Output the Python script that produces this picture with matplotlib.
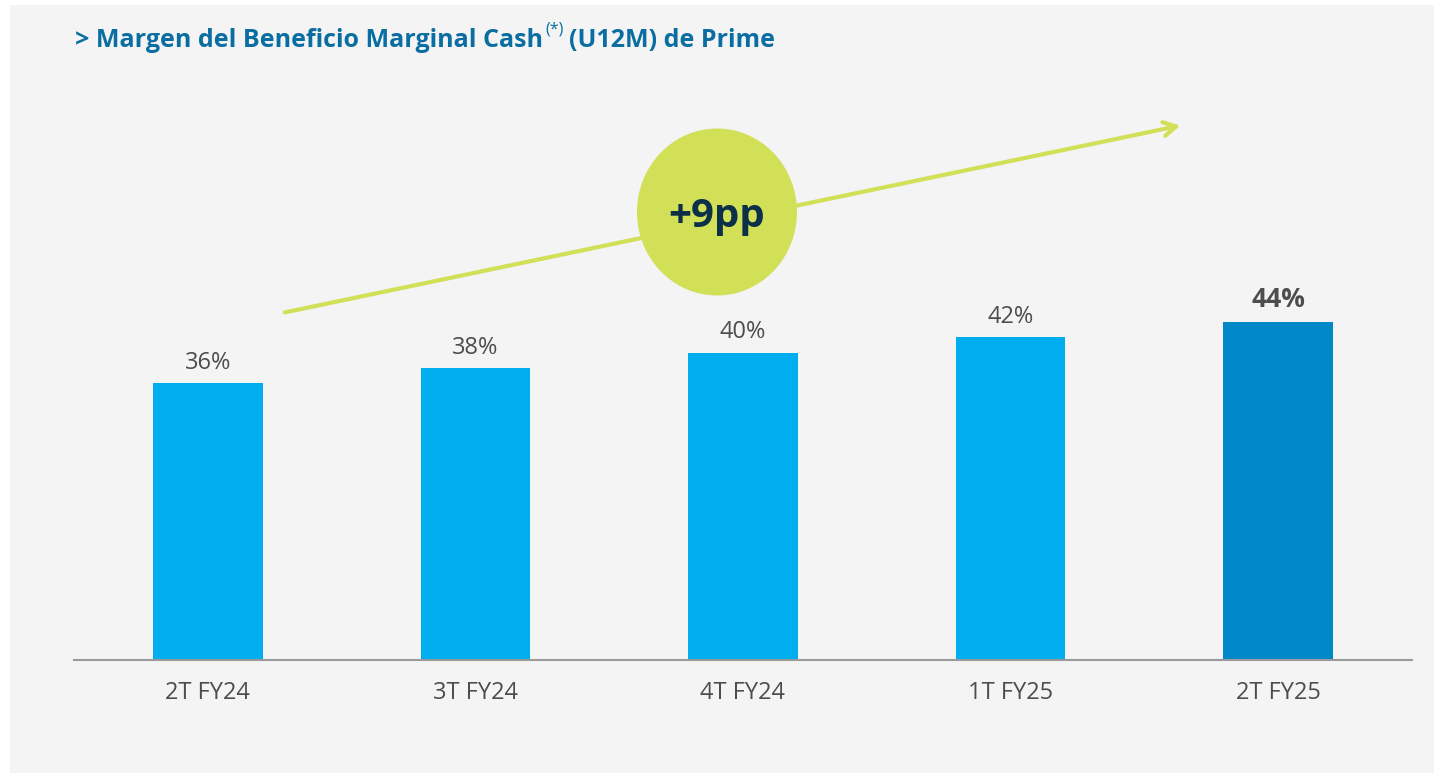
import matplotlib
matplotlib.use('Agg')
import matplotlib.pyplot as plt
from matplotlib.patches import Ellipse, Rectangle, FancyArrowPatch

categories = ['2T FY24', '3T FY24', '4T FY24', '1T FY25', '2T FY25']
values = [36, 38, 40, 42, 44]
labels = ['36%', '38%', '40%', '42%', '44%']

W, H = 1434, 773
fig = plt.figure(figsize=(W / 100, H / 100), dpi=100)
fig.patch.set_facecolor('white')
plt.rcParams['font.family'] = ['Open Sans', 'DejaVu Sans']

def fx(px):
    return px / W

def fy(py):
    return 1 - py / H

# grey panel
fig.patches.append(Rectangle((fx(10), 0), 1 - fx(10), fy(5), transform=fig.transFigure,
                             facecolor='#f4f4f4', edgecolor='none', zorder=-10))

ax = fig.add_axes([fx(74), fy(660), fx(1412) - fx(74), fy(45) - fy(660)])
ax.patch.set_alpha(0)
ax.set_zorder(1)
colors = ['#00aef0'] * 4 + ['#0088c8']
x = range(len(categories))
ax.bar(x, values, width=0.41, color=colors, zorder=2)
ax.set_xlim(-0.5, 4.5)
ax.set_ylim(0, 80)
for s in ['top', 'right', 'left']:
    ax.spines[s].set_visible(False)
ax.spines['bottom'].set_color('#9a9a9a')
ax.spines['bottom'].set_linewidth(1.5)
ax.set_yticks([])
ax.set_xticks(list(x))
ax.set_xticklabels(categories, fontsize=17, color='#4d4d4d')
ax.tick_params(axis='x', length=0, pad=15)

for i, (v, lab) in enumerate(zip(values, labels)):
    bold = i == len(values) - 1
    ax.annotate(lab, (i, v), xytext=(0, 6), textcoords='offset points', ha='center', va='bottom',
                fontsize=19 if bold else 17, color='#4d4d4d',
                fontweight='bold' if bold else 'normal')

# trend arrow
fig.add_artist(FancyArrowPatch(
    (fx(282), fy(313)), (fx(1183), fy(125)), transform=fig.transFigure,
    arrowstyle='->,head_length=9,head_width=5', color='#d2e058', linewidth=3, zorder=3))

# bubble
fig.add_artist(Ellipse((fx(717), fy(212)), 160 / W, 167 / H, transform=fig.transFigure,
                       facecolor='#d2e058', edgecolor='none', zorder=4))
fig.text(fx(717), fy(216), '+9pp', ha='center', va='center', fontsize=29,
         fontweight='bold', color='#0c3047', zorder=5)

# title with superscript
title_color = '#0a6ea2'
renderer = fig.canvas.get_renderer()
t1 = fig.text(fx(75), fy(47), '> Margen del Beneficio Marginal Cash', fontsize=18,
              fontweight='bold', color=title_color, va='baseline')
bb = t1.get_window_extent(renderer)
t2 = fig.text(bb.x1 / W + 2 / W, fy(47) + 14 / H, '(*)', fontsize=11.5, color=title_color, va='baseline')
bb2 = t2.get_window_extent(renderer)
fig.text(bb2.x1 / W + 6 / W, fy(47), '(U12M) de Prime', fontsize=18,
         fontweight='bold', color=title_color, va='baseline')

fig.savefig('out.png', dpi=100, facecolor=fig.get_facecolor())
